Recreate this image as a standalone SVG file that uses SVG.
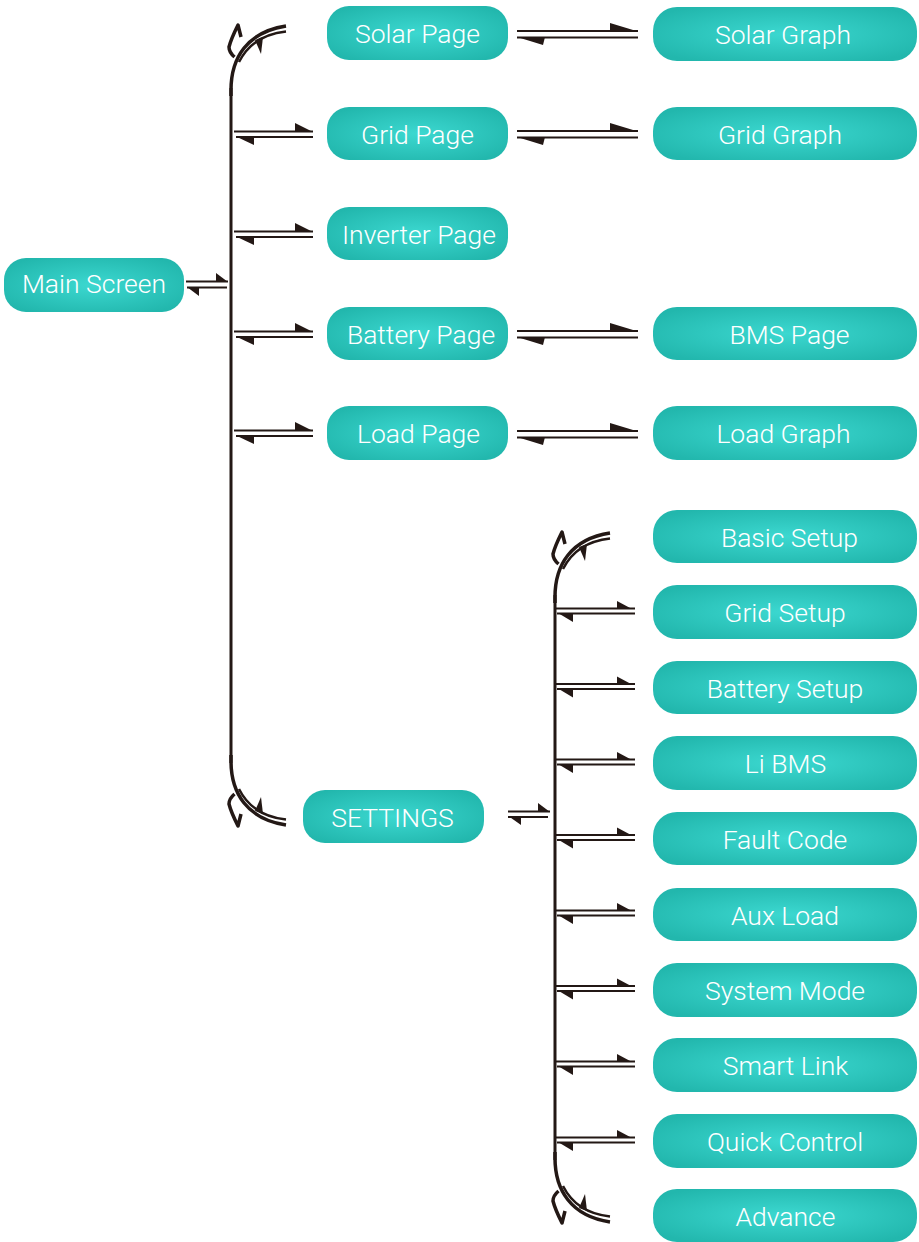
<svg xmlns="http://www.w3.org/2000/svg" xmlns:xlink="http://www.w3.org/1999/xlink" width="919" height="1242" viewBox="0 0 919 1242">
<style>
.node rect{fill:url(#tg);}
.node text{font-family:Roboto,"Liberation Sans",sans-serif;font-weight:300;font-size:26.5px;fill:#ffffff;text-anchor:middle;}
.ln{stroke:#231815;stroke-width:2;fill:none;}
.vl{stroke:#231815;stroke-width:3;fill:none;}
.ah{fill:#231815;stroke:none;}
</style>
<defs>
<radialGradient id="tg" cx="50%" cy="50%" r="60%">
<stop offset="0" stop-color="#3cd8d0"/>
<stop offset="1" stop-color="#22b7ad"/>
</radialGradient>
<g id="corner">
<path d="M0,70 L0,64 C0,32 16,6 55,0" stroke="#231815" stroke-width="3.5" fill="none"/>
<path d="M8,36 C17,18 32,8 55,5.5" stroke="#231815" stroke-width="2.5" fill="none"/>
<path d="M3.5,31 C0,28 -2,24 -2,21 C0,13 4,5 7,-1 C8,3 9,7 10,11" stroke="#231815" stroke-width="3.5" fill="none" stroke-linejoin="round"/>
<path d="M24,14 L32,11 L30,28 Z" fill="#231815"/>
</g>
</defs>
<g id="connectors">
<use xlink:href="#corner" transform="translate(231,26)"/>
<use xlink:href="#corner" transform="translate(231,825) scale(1,-1)"/>
<line class="vl" x1="231" y1="88" x2="231" y2="763"/>
<use xlink:href="#corner" transform="translate(555,533)"/>
<use xlink:href="#corner" transform="translate(555,1222) scale(1,-1)"/>
<line class="vl" x1="555" y1="595" x2="555" y2="1160"/>
<g>
<line class="ln" x1="186" y1="281.5" x2="228" y2="281.5"/><path class="ah" d="M228,282 L216,282 L216,273 Z"/>
<line class="ln" x1="187" y1="287.5" x2="227" y2="287.5"/><path class="ah" d="M187,287 L199,287 L199,296 Z"/>
</g>
<g id="la-grid">
<line class="ln" x1="234" y1="131.5" x2="313" y2="131.5"/><path class="ah" d="M313,132 L295,132 L295,123 Z"/>
<line class="ln" x1="236" y1="137" x2="313" y2="137"/><path class="ah" d="M236,136.5 L254,136.5 L254,145 Z"/>
</g>
<use xlink:href="#la-grid" transform="translate(0,100)"/>
<use xlink:href="#la-grid" transform="translate(0,200)"/>
<use xlink:href="#la-grid" transform="translate(0,299)"/>
<g>
<line class="ln" x1="508" y1="811.5" x2="550" y2="811.5"/><path class="ah" d="M550,812 L538,812 L538,803 Z"/>
<line class="ln" x1="508" y1="817" x2="548" y2="817"/><path class="ah" d="M509,816.5 L521,816.5 L521,825 Z"/>
</g>
<g id="ma">
<line class="ln" x1="517" y1="31" x2="638" y2="31"/><path class="ah" d="M638,31.5 L610,31.5 L610,23 Z"/>
<line class="ln" x1="517" y1="37.5" x2="638" y2="37.5"/><path class="ah" d="M517,37 L545,37 L543,45 Z"/>
</g>
<use xlink:href="#ma" transform="translate(0,100)"/>
<use xlink:href="#ma" transform="translate(0,300)"/>
<use xlink:href="#ma" transform="translate(0,400)"/>
<g id="sa">
<line class="ln" x1="556" y1="608.5" x2="635" y2="608.5"/><path class="ah" d="M632,609 L617,609 L617,601 Z"/>
<line class="ln" x1="557" y1="613.5" x2="635" y2="613.5"/><path class="ah" d="M558,613 L573,613 L573,622 Z"/>
</g>
<use xlink:href="#sa" transform="translate(0,75.5)"/>
<use xlink:href="#sa" transform="translate(0,151)"/>
<use xlink:href="#sa" transform="translate(0,226.5)"/>
<use xlink:href="#sa" transform="translate(0,302)"/>
<use xlink:href="#sa" transform="translate(0,377.5)"/>
<use xlink:href="#sa" transform="translate(0,453)"/>
<use xlink:href="#sa" transform="translate(0,529)"/>
</g>
<g id="main-screen" class="node"><rect x="4" y="258" width="180" height="54" rx="22"/><text x="94" y="293">Main Screen</text></g>
<g id="solar-page" class="node"><rect x="327" y="6" width="181" height="54" rx="22"/><text x="417.5" y="43">Solar Page</text></g>
<g id="grid-page" class="node"><rect x="327" y="107" width="181" height="53" rx="22"/><text x="417.5" y="144">Grid Page</text></g>
<g id="inverter-page" class="node"><rect x="327" y="207" width="181" height="53" rx="22"/><text x="419" y="244">Inverter Page</text></g>
<g id="battery-page" class="node"><rect x="327" y="307" width="181" height="53" rx="22"/><text x="421" y="344">Battery Page</text></g>
<g id="load-page" class="node"><rect x="327" y="406" width="181" height="54" rx="22"/><text x="418.5" y="443">Load Page</text></g>
<g id="solar-graph" class="node"><rect x="653" y="7" width="264" height="54" rx="24"/><text x="783" y="44">Solar Graph</text></g>
<g id="grid-graph" class="node"><rect x="653" y="107" width="264" height="53" rx="24"/><text x="780" y="144">Grid Graph</text></g>
<g id="bms-page" class="node"><rect x="653" y="307" width="264" height="53" rx="24"/><text x="789.5" y="344">BMS Page</text></g>
<g id="load-graph" class="node"><rect x="653" y="406" width="264" height="54" rx="24"/><text x="783.5" y="443">Load Graph</text></g>
<g id="settings" class="node"><rect x="303" y="790" width="181" height="53" rx="22"/><text x="392.5" y="827">SETTINGS</text></g>
<g id="basic-setup" class="node"><rect x="653" y="510" width="264" height="53" rx="24"/><text x="789.5" y="547">Basic Setup</text></g>
<g id="grid-setup" class="node"><rect x="653" y="585" width="264" height="54" rx="24"/><text x="785" y="622">Grid Setup</text></g>
<g id="battery-setup" class="node"><rect x="653" y="661" width="264" height="53" rx="24"/><text x="785" y="698">Battery Setup</text></g>
<g id="li-bms" class="node"><rect x="653" y="736" width="264" height="54" rx="24"/><text x="785.5" y="773">Li BMS</text></g>
<g id="fault-code" class="node"><rect x="653" y="812" width="264" height="53" rx="24"/><text x="785" y="849">Fault Code</text></g>
<g id="aux-load" class="node"><rect x="653" y="888" width="264" height="53" rx="24"/><text x="785" y="925">Aux Load</text></g>
<g id="system-mode" class="node"><rect x="653" y="963" width="264" height="54" rx="24"/><text x="785" y="1000">System Mode</text></g>
<g id="smart-link" class="node"><rect x="653" y="1038" width="264" height="54" rx="24"/><text x="785.5" y="1075">Smart Link</text></g>
<g id="quick-control" class="node"><rect x="653" y="1114" width="264" height="54" rx="24"/><text x="785" y="1151">Quick Control</text></g>
<g id="advance" class="node"><rect x="653" y="1189" width="264" height="53" rx="24"/><text x="785.5" y="1226">Advance</text></g>
</svg>
